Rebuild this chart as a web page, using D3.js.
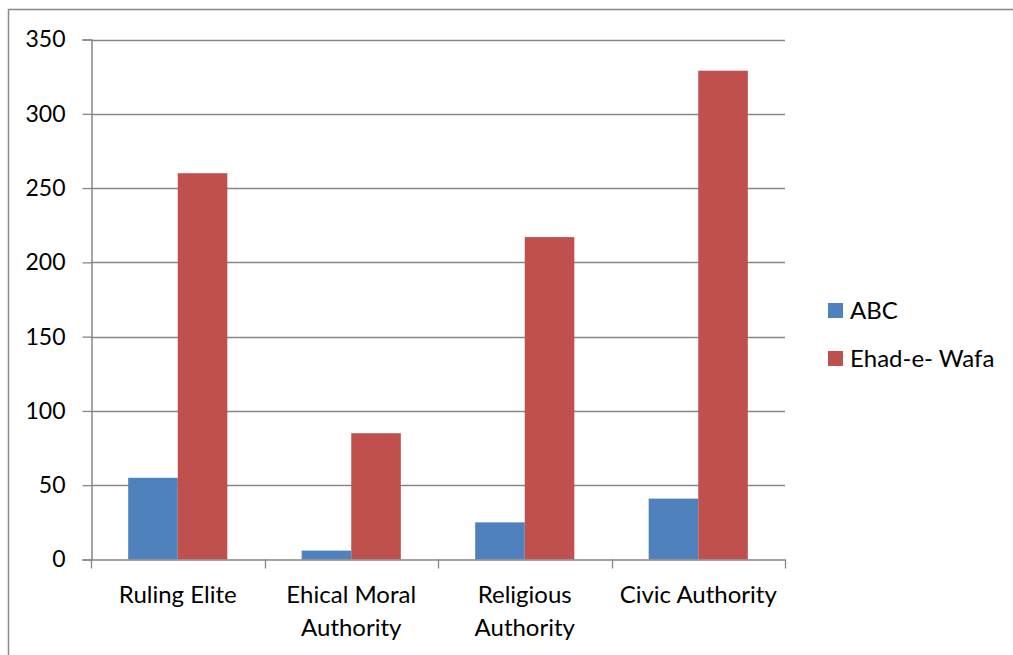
<!DOCTYPE html>
<html>
<head>
<meta charset="utf-8">
<script src="https://cdn.jsdelivr.net/npm/d3@7"></script>
<style>
  body { margin: 0; background: #fff; }
  svg text { font-family: Lato, "Open Sans", sans-serif; fill: #000; }
</style>
</head>
<body>
<div id="root"></div>
<script>
const SVG_WIDTH = 1013;
const SVG_HEIGHT = 655;

// data
const categories = ['Ruling Elite', 'Ehical Moral Authority', 'Religious Authority', 'Civic Authority'];
const categoryLines = [['Ruling Elite'], ['Ehical Moral', 'Authority'], ['Religious', 'Authority'], ['Civic Authority']];
const seriesNames = ['ABC', 'Ehad-e- Wafa'];
const abcValues = [55, 6, 25, 41];
const ehadValues = [260, 85, 217, 329];
const yTicks = [0, 50, 100, 150, 200, 250, 300, 350];
const colors = ['#4F81BD', '#C0504D'];

const PLOT_LEFT = 91, PLOT_RIGHT = 785, PLOT_TOP = 39.5, PLOT_BOTTOM = 559.5;
const AXIS_COLOR = '#868686';

const svg = d3.select('#root').append('svg')
  .attr('width', SVG_WIDTH)
  .attr('height', SVG_HEIGHT);

// outer frame (only top and left show in the picture)
svg.append('rect')
  .attr('x', 8.5).attr('y', 9.5)
  .attr('width', 1200).attr('height', 1000)
  .attr('fill', 'none').attr('stroke', '#898989').attr('stroke-width', 1.5);

const x0 = d3.scaleBand().domain(categories).range([PLOT_LEFT, PLOT_RIGHT]).padding(0);
const x1 = d3.scaleBand().domain(seriesNames).range([0, x0.bandwidth()]).paddingInner(0).paddingOuter(0.75);
const y = d3.scaleLinear().domain([0, 350]).range([PLOT_BOTTOM, PLOT_TOP]);

// gridlines
svg.append('g')
  .selectAll('line')
  .data(yTicks.filter((d) => d > 0))
  .join('line')
  .attr('x1', PLOT_LEFT).attr('x2', PLOT_RIGHT)
  .attr('y1', (d) => Math.round(y(d)) + 0.5)
  .attr('y2', (d) => Math.round(y(d)) + 0.5)
  .attr('stroke', AXIS_COLOR).attr('stroke-width', 1.3);

// bars
const groups = svg.append('g')
  .selectAll('g')
  .data(categories)
  .join('g')
  .attr('transform', (d) => `translate(${x0(d)},0)`);

groups.selectAll('rect')
  .data((d, i) => [abcValues[i], ehadValues[i]].map((v, j) => ({ key: seriesNames[j], value: v, j })))
  .join('rect')
  .attr('x', (d) => x1(d.key))
  .attr('width', x1.bandwidth())
  .attr('y', (d) => y(d.value))
  .attr('height', (d) => PLOT_BOTTOM - y(d.value))
  .attr('fill', (d) => colors[d.j]);

// y axis
const yAxis = svg.append('g')
  .attr('transform', `translate(${PLOT_LEFT + 0.5},0)`)
  .call(d3.axisLeft(y).tickValues(yTicks).tickSize(9).tickPadding(17));
yAxis.select('.domain').attr('stroke', AXIS_COLOR).attr('stroke-width', 1.5);
yAxis.selectAll('.tick line').attr('stroke', AXIS_COLOR).attr('stroke-width', 1.3);
yAxis.selectAll('.tick text').attr('font-size', 23).style('font-family', 'Lato, sans-serif').attr('fill', '#000');

// x axis
const xAxis = svg.append('g')
  .attr('transform', `translate(0,${PLOT_BOTTOM})`)
  .call(d3.axisBottom(x0).tickSize(0).tickFormat(''));
xAxis.select('.domain').attr('stroke', AXIS_COLOR).attr('stroke-width', 1.5);
// category boundary ticks
const boundaries = categories.map((c) => x0(c)).concat([x0.range()[1]]);
svg.append('g')
  .selectAll('line')
  .data(boundaries)
  .join('line')
  .attr('x1', (d) => Math.round(d) + 0.5).attr('x2', (d) => Math.round(d) + 0.5)
  .attr('y1', PLOT_BOTTOM).attr('y2', PLOT_BOTTOM + 9)
  .attr('stroke', AXIS_COLOR).attr('stroke-width', 1.3);

// category labels
const labels = svg.append('g')
  .selectAll('text')
  .data(categories)
  .join('text')
  .attr('text-anchor', 'middle')
  .attr('font-size', 24)
  .attr('x', (d) => x0(d) + x0.bandwidth() / 2)
  .attr('y', 603);
labels.selectAll('tspan')
  .data((d, i) => categoryLines[i])
  .join('tspan')
  .attr('x', function () { return this.parentNode.getAttribute('x'); })
  .attr('dy', (d, i) => (i === 0 ? 0 : 33))
  .text((d) => d);

// legend
const legend = svg.append('g')
  .selectAll('g')
  .data(seriesNames)
  .join('g')
  .attr('transform', (d, i) => `translate(828,${303 + i * 48})`);
legend.append('rect')
  .attr('width', 15).attr('height', 15)
  .attr('fill', (d, i) => colors[i]);
legend.append('text')
  .attr('x', 22).attr('y', 16)
  .attr('font-size', 24)
  .text((d) => d);
</script>
</body>
</html>
